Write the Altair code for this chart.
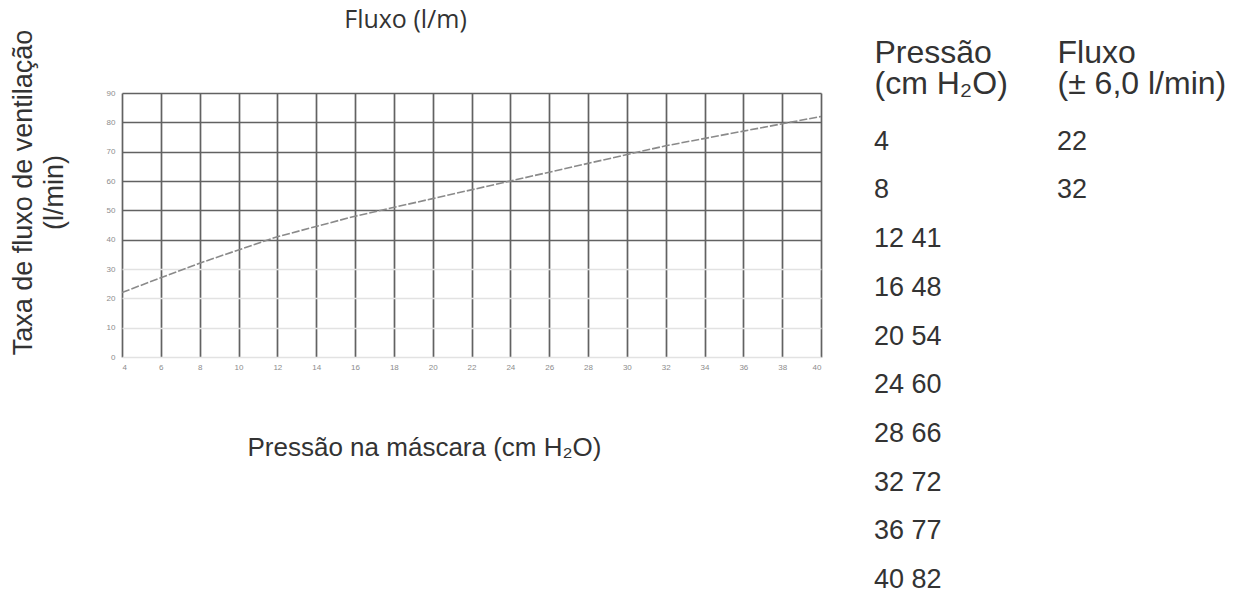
import json
import altair as alt
import pandas as pd

# ---- data ----
pressao = [4, 8, 12, 16, 20, 24, 28, 32, 36, 40]
fluxo = [22, 32, 41, 48, 54, 60, 66, 72, 77, 82]
x_ticks = list(range(4, 41, 2))
y_ticks = list(range(0, 91, 10))
header_left = ["Pressão", "(cm H₂O)"]
header_right = ["Fluxo", "(± 6,0 l/min)"]
title_text = "Fluxo (l/m)"
x_title = "Pressão na máscara (cm H₂O)"
y_title = ["Taxa de fluxo de ventilação", "(l/min)"]

curve = pd.DataFrame({"p": pressao, "f": fluxo})

rows = []
for i, (p, f) in enumerate(zip(pressao, fluxo)):
    if i < 2:
        rows.append({"row": i, "col": 0, "txt": str(p)})
        rows.append({"row": i, "col": 1, "txt": str(f)})
    else:
        rows.append({"row": i, "col": 0, "txt": f"{p} {f}"})
table = pd.DataFrame(rows)

TXT = "#333333"
GRID = "#626262"
TICK = "#8c8c8c"

line = alt.Chart(curve).mark_line(
    color="#8a8a8a", strokeWidth=1.6, strokeDash=[8, 2]
).encode(
    x=alt.X(
        "p:Q",
        scale=alt.Scale(domain=[4, 40], nice=False, zero=False),
        axis=alt.Axis(
            values=x_ticks, grid=True, gridColor=GRID, gridWidth=1.7,
            domain=False, ticks=False, labelFontSize=8, labelColor=TICK,
            labelPadding=6, title=x_title, titleX=302, titleY=90,
            titleAlign="center", titleBaseline="middle", titleFontSize=26,
            titleFontWeight="normal", titleColor=TXT,
        ),
    ),
    y=alt.Y(
        "f:Q",
        scale=alt.Scale(domain=[0, 90], nice=False),
        axis=alt.Axis(
            values=y_ticks, grid=True,
            gridColor=alt.condition("datum.value <= 30", alt.value("#e2e2e2"), alt.value(GRID)),
            gridWidth=1.7, domain=False, ticks=False, labelFontSize=8,
            labelColor=TICK, labelPadding=7, title=y_title,
            titleAngle=270, titleX=-99, titleY=99, titleAlign="center",
            titleBaseline="middle", titleLineHeight=31, titleFontSize=27,
            titleFontWeight="normal", titleColor=TXT,
        ),
    ),
).properties(
    width=699, height=264,
    title=alt.TitleParams(title_text, fontSize=25, font="Open Sans",
                          fontWeight="normal", color=TXT, dx=-66, dy=4, offset=0),
)

label_expr = "datum.value == 0 ? {} : {}".format(json.dumps(header_left, ensure_ascii=False),
                                                  json.dumps(header_right, ensure_ascii=False))

tab = alt.Chart(table).mark_text(
    align="left", baseline="middle", fontSize=27, color=TXT
).encode(
    x=alt.X(
        "col:Q", scale=alt.Scale(domain=[0, 1], nice=False),
        axis=alt.Axis(orient="top", values=[0, 1], labelExpr=label_expr,
                      labelAlign="left", labelBaseline="alphabetic", labelFontSize=32,
                      labelLineHeight=31, labelColor=TXT, labelPadding=31,
                      labelFlush=False, labelOverlap=False, labelBound=False,
                      domain=False, ticks=False, grid=False, title=None),
    ),
    y=alt.Y("row:Q", scale=alt.Scale(domain=[-1, 9], reverse=True, nice=False), axis=None),
    text="txt:N",
).properties(width=183, height=487)

chart = alt.hconcat(line, tab, spacing=53, bounds="flush").properties(
    padding=0
).configure(font="Liberation Sans").configure_view(strokeOpacity=0)

chart.save("out.html", embed_options={"renderer": "svg", "actions": False})
